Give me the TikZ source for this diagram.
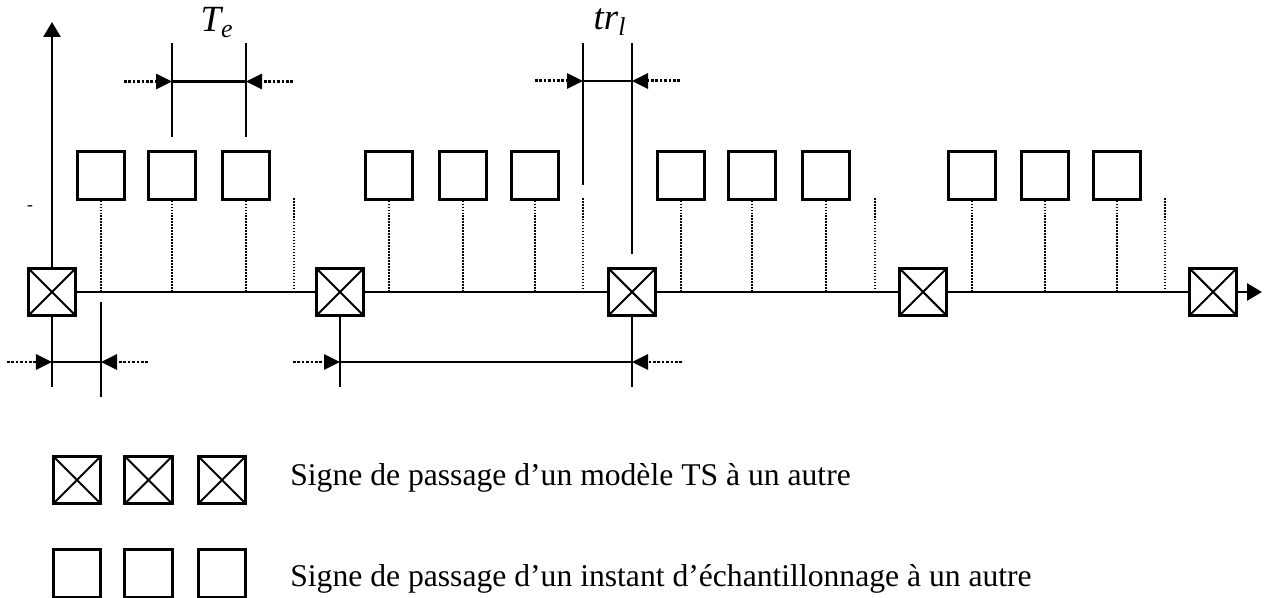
\documentclass[tikz,border=0pt]{standalone}
\usepackage{fontspec}
\setmainfont{Liberation Serif}
\usepackage{tikz}
\usetikzlibrary{arrows.meta,positioning,calc}
\definecolor{inkBlack}{RGB}{0,0,0}
\newcommand{\legendFont}{\fontsize{18}{22}\selectfont}
\newcommand{\labelFont}{\fontsize{21}{24}\selectfont\itshape}
\tikzset{
  tsbox/.style={
    rectangle, draw=inkBlack, line width=1.8pt, fill=white,
    minimum size=0.95cm, inner sep=0pt,
    path picture={\draw[line width=1.2pt]
      (path picture bounding box.north west) -- (path picture bounding box.south east)
      (path picture bounding box.north east) -- (path picture bounding box.south west);}
  },
  samplebox/.style={
    rectangle, draw=inkBlack, line width=1.5pt, fill=white,
    minimum size=0.95cm, inner sep=0pt
  },
  sampleLine/.style={line width=0.9pt, dash pattern=on 0.9pt off 0.8pt, color=inkBlack},
  dimLine/.style={line width=1.3pt, color=inkBlack},
  dimArrow/.style={-{Triangle[length=0.32cm,width=0.3cm]}, line width=1.7pt,
    dash pattern=on 1.5pt off 1pt, color=inkBlack},
  axisArrow/.style={-{Triangle[length=0.3cm,width=0.34cm]}, line width=1.5pt, color=inkBlack}
}

\begin{document}
\begin{tikzpicture}
        \useasboundingbox (0,0) rectangle (25.3,-11.96);
        % changes of TS model
        \node[tsbox] (x1) at (1.04,-5.84) {};
        \node[tsbox] (x2) at (6.80,-5.84) {};
        \node[tsbox] (x3) at (12.64,-5.84) {};
        \node[tsbox] (x4) at (18.46,-5.84) {};
        \node[tsbox] (x5) at (24.26,-5.84) {};
        % sampling instants
        \node[samplebox] (s1) at (2.02,-3.51) {};
        \node[samplebox] (s2) at (3.44,-3.51) {};
        \node[samplebox] (s3) at (4.92,-3.51) {};
        \node[samplebox] (s4) at (7.78,-3.51) {};
        \node[samplebox] (s5) at (9.26,-3.51) {};
        \node[samplebox] (s6) at (10.70,-3.51) {};
        \node[samplebox] (s7) at (13.62,-3.51) {};
        \node[samplebox] (s8) at (15.04,-3.51) {};
        \node[samplebox] (s9) at (16.52,-3.51) {};
        \node[samplebox] (s10) at (19.44,-3.51) {};
        \node[samplebox] (s11) at (20.90,-3.51) {};
        \node[samplebox] (s12) at (22.34,-3.51) {};
        \coordinate (e1) at (5.88,-3.96);
        \coordinate (e2) at (11.66,-3.96);
        \coordinate (e3) at (17.50,-3.96);
        \coordinate (e4) at (23.30,-3.96);
        \draw[sampleLine]
          (s1.south) -- (s1.south |- x1.center) (s2.south) -- (s2.south |- x1.center)
          (s3.south) -- (s3.south |- x1.center) (e1) -- (e1 |- x1.center)
          (s4.south) -- (s4.south |- x1.center) (s5.south) -- (s5.south |- x1.center)
          (s6.south) -- (s6.south |- x1.center) (e2) -- (e2 |- x1.center)
          (s7.south) -- (s7.south |- x1.center) (s8.south) -- (s8.south |- x1.center)
          (s9.south) -- (s9.south |- x1.center) (e3) -- (e3 |- x1.center)
          (s10.south) -- (s10.south |- x1.center) (s11.south) -- (s11.south |- x1.center)
          (s12.south) -- (s12.south |- x1.center) (e4) -- (e4 |- x1.center);
        % axes
        \coordinate (ytop) at (1.04,-0.44);
        \coordinate (tend) at (25.24,-5.84);
        \draw[axisArrow] (x1.north) -- (ytop);
        \draw[line width=1.5pt] (x1.east) -- (x2.west) (x2.east) -- (x3.west)
          (x3.east) -- (x4.west) (x4.east) -- (x5.west);
        \draw[axisArrow] (x5.east) -- (tend);
        \node[font=\normalsize, inner sep=0pt] (tick) at (0.60,-4.16) {-};
        % sampling period
        \coordinate (teA) at (3.44,-1.63);
        \coordinate (teB) at (4.92,-1.63);
        \draw[dimLine] (3.44,-0.86) -- ([shift={(0,0.26cm)}]s2.north);
        \draw[dimLine] (4.92,-0.86) -- ([shift={(0,0.26cm)}]s3.north);
        \draw[line width=1.2pt] (teA) -- (teB);
        \draw[dimArrow] (2.48,-1.63) -- (teA);
        \draw[dimArrow] (5.86,-1.63) -- (teB);
        \node[font=\labelFont, anchor=base, inner sep=0pt] (teLabel) at (4.34,-0.64)
          {T\textsubscript{e}};
        % transition time
        \coordinate (trA) at (11.66,-1.62);
        \coordinate (trB) at (12.64,-1.62);
        \draw[dimLine] (11.66,-0.86) -- (11.66,-3.70);
        \draw[dimLine] (12.64,-0.86) -- ([shift={(0,0.25cm)}]x3.north);
        \draw[line width=1.2pt] (trA) -- (trB);
        \draw[dimArrow] (10.70,-1.62) -- (trA);
        \draw[dimArrow] (13.60,-1.62) -- (trB);
        \node[font=\labelFont, anchor=base, inner sep=0pt] (trLabel) at (12.20,-0.60)
          {tr\textsubscript{l}};
        % lower intervals
        \coordinate (blA) at (1.04,-7.24);
        \coordinate (blB) at (2.02,-7.24);
        \draw[dimLine] (x1.south) -- (1.04,-7.74);
        \draw[dimLine] (2.02,-6.04) -- (2.02,-7.94);
        \draw[line width=1.2pt] (blA) -- (blB);
        \draw[dimArrow] (0.14,-7.24) -- (blA);
        \draw[dimArrow] (2.96,-7.24) -- (blB);
        \coordinate (bmA) at (6.80,-7.24);
        \coordinate (bmB) at (12.64,-7.24);
        \draw[dimLine] (x2.south) -- (6.80,-7.74);
        \draw[dimLine] (x3.south) -- (12.64,-7.74);
        \draw[line width=1.2pt] (bmA) -- (bmB);
        \draw[dimArrow] (5.86,-7.24) -- (bmA);
        \draw[dimArrow] (13.64,-7.24) -- (bmB);
        % legend
        \node[tsbox] (l1) at (1.54,-9.60) {};
        \node[tsbox] (l2) at (2.97,-9.60) {};
        \node[tsbox] (l3) at (4.44,-9.60) {};
        \node[samplebox] (m1) at (1.54,-11.47) {};
        \node[samplebox] (m2) at (2.97,-11.47) {};
        \node[samplebox] (m3) at (4.44,-11.47) {};
        \node[font=\legendFont, anchor=base west, inner sep=0pt] (legTS) at (5.80,-9.72)
          {Signe de passage d’un modèle TS à un autre};
        \node[font=\legendFont, anchor=base west, inner sep=0pt] (legSample) at (5.80,-11.74)
          {Signe de passage d’un instant d’échantillonnage à un autre};
      \end{tikzpicture}
\end{document}
